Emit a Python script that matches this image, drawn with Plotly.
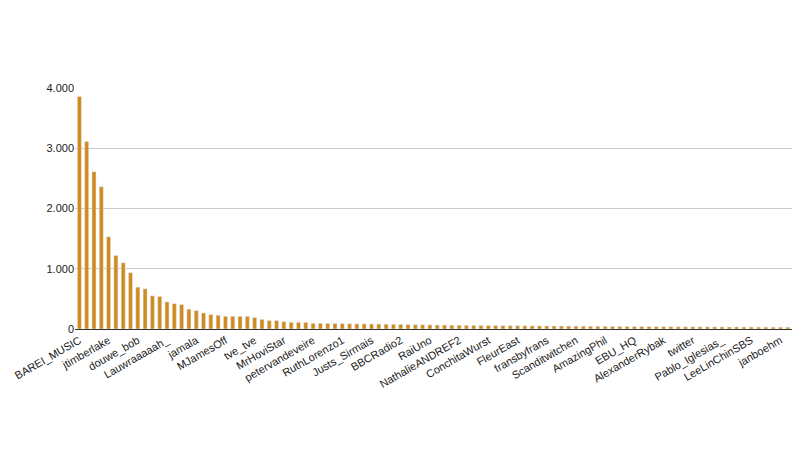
import plotly.graph_objects as go

labels = ["BAREI_MUSIC", "jtimberlake", "douwe_bob", "Lauwraaaaah_", "jamala", "MJamesOff",
          "tve_tve", "MrHoviStar", "petervandeveire", "RuthLorenzo1", "Justs_Sirmais", "BBCRadio2",
          "RaiUno", "NathalieANDREF2", "ConchitaWurst", "FleurEast", "fransbyfrans", "Scanditwitchen",
          "AmazingPhil", "EBU_HQ", "AlexanderRybak", "twitter", "Pablo_Iglesias_", "LeeLinChinSBS", "janboehm"]

values = [3860, 3110, 2610, 2360, 1530, 1220, 1100, 935, 695, 667,
          550, 540, 450, 420, 405, 330, 305, 267, 240, 228,
          211, 211, 211, 211, 190, 160, 140, 140, 122, 111,
          111, 111, 95, 95, 93, 92, 90, 88, 86, 85,
          83, 82, 80, 78, 76, 74, 72, 70, 68, 66,
          65, 63, 62, 61, 60, 59, 58, 57, 56, 55,
          54, 53, 52, 51, 50, 50, 49, 48, 47, 46,
          45, 45, 44, 43, 42, 42, 41, 40, 40, 39,
          38, 38, 37, 36, 36, 35, 35, 34, 34, 33,
          33, 32, 32, 31, 31, 30, 30, 30, 29, 29]

x = list(range(len(values)))
tickvals = [i * 4 for i in range(len(labels))]

fig = go.Figure(go.Bar(x=x, y=values, marker_color="#d08a1e", width=0.55))
fig.update_layout(
    width=800, height=450, plot_bgcolor="white", paper_bgcolor="white",
    margin=dict(l=67, r=2, t=80, b=129),
    font=dict(family="Liberation Sans, Arial", size=11, color="#222"),
    showlegend=False, bargap=0.3,
    separators=",.",
)
fig.update_xaxes(tickvals=tickvals, ticktext=labels, tickangle=-30, range=[-0.6, 99.5],
                 showgrid=False, ticks="", showline=True, linecolor="#333")
fig.update_yaxes(range=[0, 4000], tickvals=[0, 1000, 2000, 3000, 4000], tickformat=",d",
                 gridcolor="#ccc", zeroline=False, ticks="")
fig.write_html("out.html")
